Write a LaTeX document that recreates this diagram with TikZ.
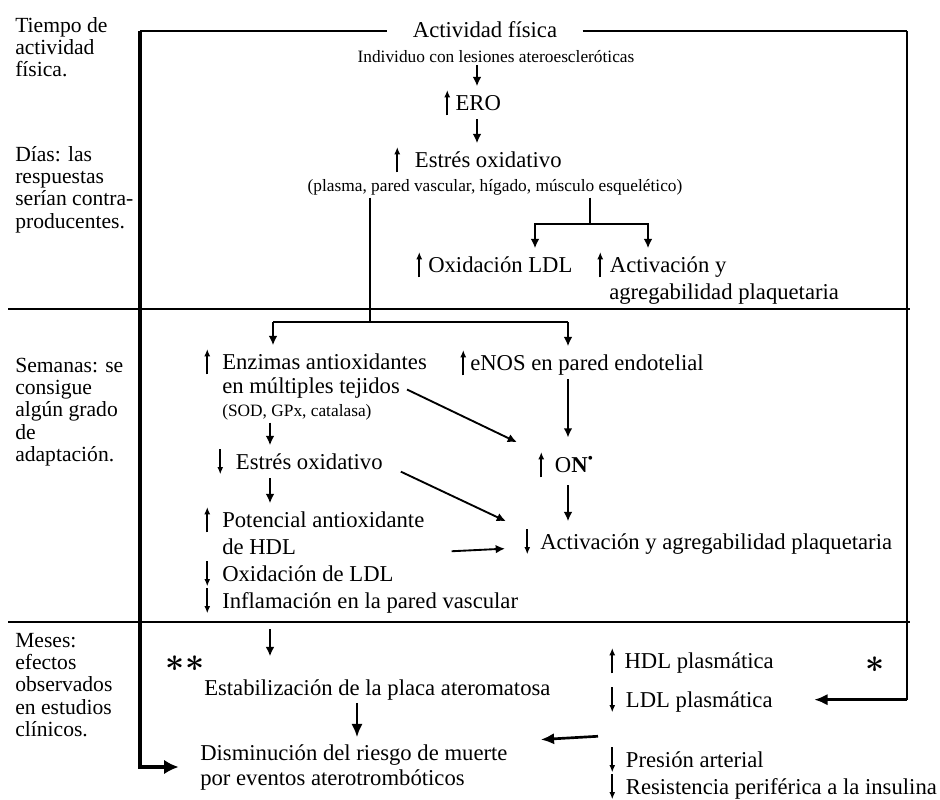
\documentclass[tikz,border=0pt]{standalone}
\usepackage{fontspec}
\setmainfont{Liberation Serif}
\usepackage{tikz}
\usetikzlibrary{arrows.meta,calc}

\newcommand{\upar}[1][4pt]{\tikz[baseline=0pt]\draw[line width=1.2pt,-{Latex[length=5.5pt,width=4.5pt]}] (0,-4pt) -- (0,15pt);\kern#1}
\newcommand{\dnar}[1][4pt]{\tikz[baseline=0pt]\draw[line width=1.2pt,-{Latex[length=5.5pt,width=4.5pt]}] (0,15pt) -- (0,-4pt);\kern#1}
\newcommand{\rowsof}[1]{\begin{tabular}[t]{@{}l@{}}#1\end{tabular}}

\begin{document}
\begin{tikzpicture}[x=0.75pt,y=0.75pt]
    \tikzstyle{every node}+=[inner xsep=0pt,inner ysep=2pt]
    \tikzstyle{txt}=[font=\fontsize{17}{20}\selectfont,anchor=base west]
    \tikzstyle{sml}=[font=\fontsize{13}{15}\selectfont,anchor=base]
    \tikzstyle{side}=[font=\fontsize{16.2}{16.8}\selectfont,anchor=base west]
    \tikzstyle{star}=[font=\fontsize{29}{29}\selectfont\boldmath]
    \tikzstyle{rule}=[line width=1.1pt]
    \tikzstyle{thinl}=[line width=0.8pt]
    \tikzstyle{conn}=[line width=1.4pt,-{Latex[length=7pt,width=6.5pt]}]
    \tikzstyle{bigconn}=[line width=2.2pt,-{Latex[length=10pt,width=8.5pt]}]
    \useasboundingbox (0,0) rectangle (940,-800);

    \node (t0) at (15,-32) [side] {\rowsof{Tiempo de\\actividad\\física.}};
    \node (t1) at (15,-161) [side] {\rowsof{Días: las\\respuestas\\serían contra-\\producentes.}};
    \node (t2) at (15,-372) [side] {\rowsof{Semanas: se\\consigue\\algún grado\\de\\adaptación.}};
    \node (t3) at (15,-647) [side] {\rowsof{Meses:\\efectos\\observados\\en estudios\\clínicos.}};

    \node (act) at (485,-37) [txt,anchor=base,inner xsep=19pt] {Actividad física};
    \node (ind) at (496,-62) [sml] {Individuo con lesiones ateroescleróticas};
    \node (ero) at (444,-110) [txt] {\upar ERO};
    \node (eox) at (394,-167) [txt] {\upar[11pt]Estrés oxidativo};
    \node (pla) at (495,-191) [sml] {(plasma, pared vascular, hígado, músculo esquelético)};
    \node (oxl) at (416,-272) [txt] {\upar[4.5pt]Oxidación LDL};
    \node (act2) at (597,-272) [txt] {\upar[5pt]Activación y};
    \node (act2b) at (609,-299) [txt] {agregabilidad plaquetaria};

    \node (enz) at (204,-369) [txt] {\upar[9pt]Enzimas antioxidantes};
    \node (enzb) at (222,-393) [txt] {en múltiples tejidos};
    \node (sod) at (222,-416) [sml,anchor=base west] {(SOD, GPx, catalasa)};
    \node (enos) at (460,-370) [txt] {\upar[3pt]eNOS en pared endotelial};
    \node (on) at (538,-472) [txt] {\upar[8pt]O\textbf{N}\textsuperscript{\textbullet}};
    \node (eox2) at (217,-469) [txt] {\dnar[9.5pt]Estrés oxidativo};
    \node (pot) at (204,-527) [txt] {\upar[9pt]Potencial antioxidante};
    \node (potb) at (222,-554) [txt] {de HDL};
    \node (act3) at (524,-549) [txt] {\dnar[7.5pt]Activación y agregabilidad plaquetaria};
    \node (oxl2) at (204,-581) [txt] {\dnar[9pt]Oxidación de LDL};
    \node (infl) at (204,-608) [txt] {\dnar[9pt]Inflamación en la pared vascular};

    \node (ast2) at (185,-664) [star] {$\ast\ast$};
    \node (est) at (204,-695) [txt] {Estabilización de la placa ateromatosa};
    \node (dis) at (200,-760) [txt] {Disminución del riesgo de muerte};
    \node (disb) at (200,-785) [txt] {por eventos aterotrombóticos};
    \node (hdl) at (609,-668) [txt] {\upar[7pt]HDL plasmática};
    \node (ast1) at (875,-665) [star] {$\ast$};
    \node (ldl) at (609,-707) [txt] {\dnar[8pt]LDL plasmática};
    \node (pres) at (609,-767) [txt] {\dnar[8pt]Presión arterial};
    \node (res) at (609,-794) [txt] {\dnar[8pt]Resistencia periférica a la insulina};

    \coordinate (tl) at (140,-31);
    \coordinate (tr) at (907,-31);
    \coordinate (bl) at (140,-767);
    \coordinate (b1) at (370,-322);
    \coordinate (b2) at (590,-224);
    \coordinate (c1) at (477,0);
    \coordinate (c2) at (273,0);
    \coordinate (c3) at (568,0);
    \coordinate (c4) at (535,0);
    \coordinate (c5) at (648,0);
    \coordinate (c6) at (270,0);
    \coordinate (c7) at (357,0);

    \draw [rule] (8,-309) -- (910,-309);
    \draw [rule] (8,-622) -- (910,-622);
    \draw [rule] (tl) -- (tl -| act.west);
    \draw [rule] (act.east |- tr) -- (tr);
    \draw [line width=2.6pt,-{Latex[length=11pt,width=11pt]},shorten >=16pt] (tl) -- (bl) -- (bl -| dis.west);
    \draw [line width=1.5pt] (tr) -- (tr |- ldl.east);
    \draw [bigconn,shorten >=31pt] (tr |- ldl.east) -- (ldl.east);

    \draw [conn] (ind.south -| c1) -- (ero.north -| c1);
    \draw [conn] (ero.south -| c1) -- (eox.north -| c1);
    \draw [thinl] (pla.south -| b1) -- (b1);
    \draw [thinl] (c2 |- b1) -- (c3 |- b1);
    \draw [conn] (c2 |- b1) -- (enz.north -| c2);
    \draw [conn] (c3 |- b1) -- (enos.north -| c3);
    \draw [thinl] (pla.south -| b2) -- (b2);
    \draw [conn] (b2) -| (oxl.north -| c4);
    \draw [conn] (b2) -| (act2.north -| c5);

    \draw [conn] ($(enzb.east)+(7,-2)$) -- ($(on.north west)+(-21,6)$);
    \draw [conn,shorten >=8pt] (enos.south -| c3) -- (on.north -| c3);
    \draw [conn] (sod.south -| c6) -- (eox2.north -| c6);
    \draw [conn] (eox2.south -| c6) -- (pot.north -| c6);
    \draw [conn] ($(eox2.east)+(18,-10)$) -- ($(act3.north west)+(-18,4)$);
    \draw [conn,shorten <=3pt,shorten >=3pt] (on.south -| c3) -- (act3.north -| c3);
    \draw [conn] ($(pot.east |- potb.east)+(27,-5)$) -- ($(act3.west)+(-19,-7)$);

    \draw [conn,shorten <=9pt,shorten >=15pt] (infl.south -| c6) -- (est.north -| c6);
    \draw [bigconn,line width=2pt,shorten >=3pt] (est.south -| c7) -- (dis.north -| c7);
    \draw [bigconn,line width=2pt] ($(pres.north west)+(-11,7)$) -- ($(dis.east)+(33,15)$);
\end{tikzpicture}
\end{document}
